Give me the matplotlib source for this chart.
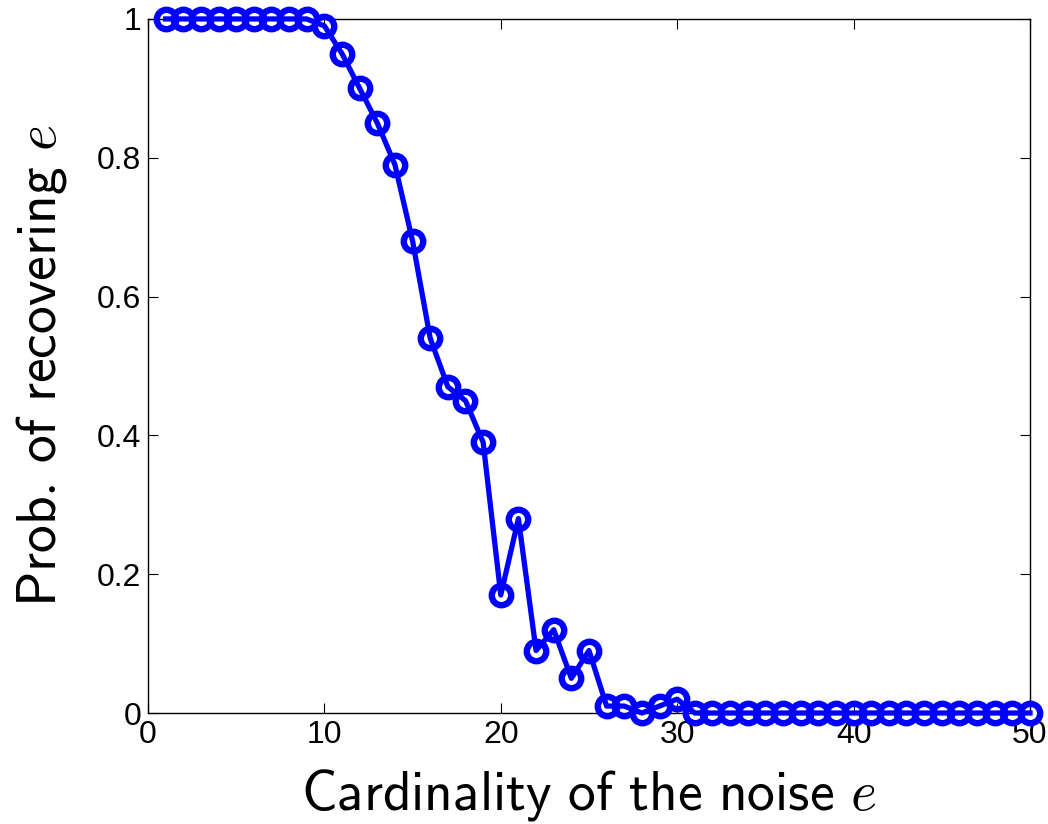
import matplotlib
matplotlib.use("Agg")
import matplotlib.pyplot as plt

cardinality = list(range(1, 51))
prob = [1.0, 1.0, 1.0, 1.0, 1.0, 1.0, 1.0, 1.0, 1.0, 0.99,
        0.95, 0.90, 0.85, 0.79, 0.68, 0.54, 0.47, 0.45, 0.39, 0.17,
        0.28, 0.09, 0.12, 0.05, 0.09, 0.01, 0.01, 0.0, 0.01, 0.02,
        0.0, 0.0, 0.0, 0.0, 0.0, 0.0, 0.0, 0.0, 0.0, 0.0,
        0.0, 0.0, 0.0, 0.0, 0.0, 0.0, 0.0, 0.0, 0.0, 0.0]
xticks = [0, 10, 20, 30, 40, 50]
yticks = [0, 0.2, 0.4, 0.6, 0.8, 1]
ytick_labels = ["0", "0.2", "0.4", "0.6", "0.8", "1"]

plt.rcParams['mathtext.fontset'] = 'cm'
plt.rcParams['font.family'] = ['Liberation Sans', 'DejaVu Sans']

fig = plt.figure(figsize=(10.48, 8.24), dpi=100)
ax = fig.add_axes([0.1412, 0.1347, 0.8416, 0.8423])
ax.plot(cardinality, prob, color='#0000ff', linewidth=3.8, marker='o',
        markersize=14, markerfacecolor='none', markeredgewidth=4.6,
        markeredgecolor='#0000ff', clip_on=False, zorder=3)
ax.set_xlim(0, 50)
ax.set_ylim(0, 1)
ax.set_xticks(xticks)
ax.set_yticks(yticks)
ax.set_yticklabels(ytick_labels)
ax.tick_params(direction='in', top=True, right=True, labelsize=23, length=7, width=0.8, pad=5)
for s in ax.spines.values():
    s.set_linewidth(1.0)
ax.set_xlabel(r'$\mathsf{Cardinality\ of\ the\ noise}\ e$', fontsize=40, labelpad=12)
ax.set_ylabel(r'$\mathsf{Prob.}\,\mathsf{of\ recovering}\ e$', fontsize=40, labelpad=20)
fig.savefig('out.png', dpi=100)
